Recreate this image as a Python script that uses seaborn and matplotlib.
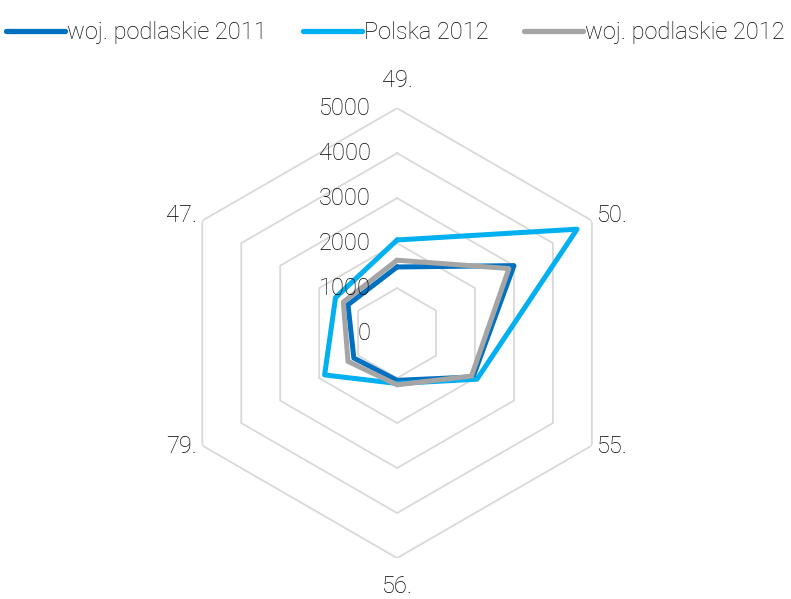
import numpy as np
import pandas as pd
import matplotlib
matplotlib.use('Agg')
import matplotlib.pyplot as plt
import seaborn as sns

# dane
kategorie = ['49.', '50.', '55.', '56.', '79.', '47.']
podlaskie_2011 = [1470, 3000, 1950, 1050, 1110, 1260]
polska_2012 = [2070, 4620, 2050, 1120, 1860, 1580]
podlaskie_2012 = [1620, 2870, 1910, 1150, 1260, 1380]
serie = ['woj. podlaskie 2011', 'Polska 2012', 'woj. podlaskie 2012']
skala = [0, 1000, 2000, 3000, 4000, 5000]

sns.set_style('white')
plt.rcParams['font.family'] = ['Roboto', 'DejaVu Sans']

kolory = {'woj. podlaskie 2011': '#0070C0', 'Polska 2012': '#00B0F0', 'woj. podlaskie 2012': '#A5A5A5'}

n = len(kategorie)
katy = np.linspace(0, 2 * np.pi, n, endpoint=False)
katy_z = np.append(katy, 2 * np.pi)

rows = []
for nazwa, wart in zip(serie, [podlaskie_2011, polska_2012, podlaskie_2012]):
    for t, v in zip(katy_z, wart + wart[:1]):
        rows.append({'seria': nazwa, 'kat': t, 'wartosc': v})
df = pd.DataFrame(rows)

fig = plt.figure(figsize=(7.91, 5.99), dpi=100)
ax = fig.add_axes([0.2175, 0.0684, 0.569, 0.751], projection='polar')
ax.set_theta_zero_location('N')
ax.set_theta_direction(-1)
ax.set_ylim(0, 5000)

# siatka szesciokatna
for r in skala[1:]:
    ax.plot(katy_z, [r] * (n + 1), color='#D9D9D9', lw=1.3, zorder=1)

sns.lineplot(data=df, x='kat', y='wartosc', hue='seria', palette=kolory, sort=False,
             estimator=None, linewidth=3.6, ax=ax, legend=False, zorder=3)

ax.grid(False)
ax.spines['polar'].set_visible(False)
ax.set_xticks([])
ax.set_yticks([])
ax.set_xlabel('')
ax.set_ylabel('')

fs = 17
kolor_tekstu = 'black'
for r in skala:
    ax.annotate(str(r), xy=(0, r), xytext=(-19, 0), textcoords='offset points',
                ha='right', va='center', fontsize=fs, fontweight='light', color=kolor_tekstu)

# etykiety osi
ustawienia = [((0, 12), 'center', 'bottom'), ((4, 4), 'left', 'center'), ((4, -1), 'left', 'center'),
              ((0, -12), 'center', 'top'), ((-4, -1), 'right', 'center'), ((-4, 4), 'right', 'center')]
for t, lab, (off, ha, va) in zip(katy, kategorie, ustawienia):
    ax.annotate(lab, xy=(t, 5000), xytext=off, textcoords='offset points',
                ha=ha, va=va, fontsize=fs, fontweight='light', color=kolor_tekstu)

uchwyty = [plt.Line2D([], [], color=kolory[s], lw=3.8) for s in serie]
leg = fig.legend(uchwyty, serie, loc='upper center', bbox_to_anchor=(0.5, 1.0), ncol=3, frameon=False,
                 handlelength=2.5, handletextpad=0.1, columnspacing=1.5,
                 prop={'weight': 'light', 'size': fs})
for t in leg.get_texts():
    t.set_color(kolor_tekstu)

fig.savefig('out.png', dpi=100)
